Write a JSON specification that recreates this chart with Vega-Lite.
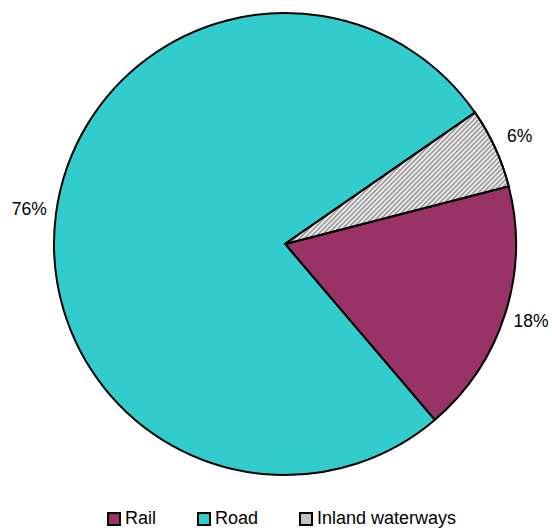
{
 "$schema": "https://vega.github.io/schema/vega-lite/v6.json",
 "width": 462, "height": 462,
 "autosize": {"type": "none"},
 "padding": {"left": 54, "top": 13, "right": 36, "bottom": 55},
 "background": "white",
 "config": {"view": {"stroke": null}, "font": "Liberation Sans"},
 "data": {"values": [
  {"mode": "Rail", "share": 17.8, "idx": 1, "label": "18%"},
  {"mode": "Road", "share": 76.6, "idx": 2, "label": "76%"},
  {"mode": "Inland waterways", "share": 5.6, "idx": 3, "label": "6%"}
 ]},
 "layer": [
  {"transform": [{"stack": "share", "groupby": [], "sort": [{"field": "idx", "order": "ascending"}], "as": ["s0", "s1"]}],
   "mark": {"type": "arc", "stroke": "black", "strokeWidth": 2},
   "encoding": {
     "theta": {"field": "s0", "type": "quantitative", "scale": {"domain": [0, 100], "range": [1.318, 7.601]}},
     "theta2": {"field": "s1"},
     "color": {"field": "mode", "type": "nominal",
       "scale": {"domain": ["Rail", "Road", "Inland waterways"], "range": ["#993366", "#33CCCC", "#c4c4c4"]},
       "legend": {"title": null, "orient": "none", "legendX": 51, "legendY": 497, "direction": "horizontal", "symbolType": "square", "symbolSize": 144,
         "symbolStrokeColor": "black", "symbolStrokeWidth": 2, "symbolOpacity": 1,
         "labelFont": "Liberation Sans", "labelFontSize": 18, "labelColor": "black", "labelOffset": 2,
         "columnPadding": 37,
         "encode": {"symbols": {"update": {
           "stroke": {"value": "black"}, "strokeWidth": {"value": 2}, "opacity": {"value": 1},
           "fill": [
           {"test": "datum.value === 'Inland waterways'", "value": {"gradient": "linear", "x1": 0, "y1": 1, "x2": 1, "y2": 0, "stops": [
             {"offset": 0, "color": "#999"}, {"offset": 0.5, "color": "#fff"}, {"offset": 1, "color": "#999"}]}},
           {"scale": "color", "field": "value"}]}}}}}
   }},
  {"transform": [{"stack": "share", "groupby": [], "sort": [{"field": "idx", "order": "ascending"}], "as": ["s0", "s1"]}, {"filter": "datum.mode === 'Inland waterways'"}],
   "mark": {"type": "arc", "stroke": "black", "strokeWidth": 2,
     "fill": {"gradient": "linear", "x1": 0, "y1": 0, "x2": 1, "y2": 0.578, "stops": [
{"offset":0,"color":"#8c8c8c"},{"offset":0.008,"color":"#fff"},{"offset":0.016,"color":"#8c8c8c"},{"offset":0.024,"color":"#fff"},
{"offset":0.032,"color":"#8c8c8c"},{"offset":0.04,"color":"#fff"},{"offset":0.048,"color":"#8c8c8c"},{"offset":0.056,"color":"#fff"},
{"offset":0.064,"color":"#8c8c8c"},{"offset":0.072,"color":"#fff"},{"offset":0.08,"color":"#8c8c8c"},{"offset":0.088,"color":"#fff"},
{"offset":0.096,"color":"#8c8c8c"},{"offset":0.104,"color":"#fff"},{"offset":0.112,"color":"#8c8c8c"},{"offset":0.12,"color":"#fff"},
{"offset":0.128,"color":"#8c8c8c"},{"offset":0.136,"color":"#fff"},{"offset":0.144,"color":"#8c8c8c"},{"offset":0.152,"color":"#fff"},
{"offset":0.16,"color":"#8c8c8c"},{"offset":0.168,"color":"#fff"},{"offset":0.176,"color":"#8c8c8c"},{"offset":0.184,"color":"#fff"},
{"offset":0.192,"color":"#8c8c8c"},{"offset":0.2,"color":"#fff"},{"offset":0.208,"color":"#8c8c8c"},{"offset":0.216,"color":"#fff"},
{"offset":0.224,"color":"#8c8c8c"},{"offset":0.232,"color":"#fff"},{"offset":0.24,"color":"#8c8c8c"},{"offset":0.248,"color":"#fff"},
{"offset":0.256,"color":"#8c8c8c"},{"offset":0.264,"color":"#fff"},{"offset":0.272,"color":"#8c8c8c"},{"offset":0.28,"color":"#fff"},
{"offset":0.288,"color":"#8c8c8c"},{"offset":0.296,"color":"#fff"},{"offset":0.304,"color":"#8c8c8c"},{"offset":0.312,"color":"#fff"},
{"offset":0.32,"color":"#8c8c8c"},{"offset":0.328,"color":"#fff"},{"offset":0.336,"color":"#8c8c8c"},{"offset":0.344,"color":"#fff"},
{"offset":0.352,"color":"#8c8c8c"},{"offset":0.36,"color":"#fff"},{"offset":0.368,"color":"#8c8c8c"},{"offset":0.376,"color":"#fff"},
{"offset":0.384,"color":"#8c8c8c"},{"offset":0.392,"color":"#fff"},{"offset":0.4,"color":"#8c8c8c"},{"offset":0.408,"color":"#fff"},
{"offset":0.416,"color":"#8c8c8c"},{"offset":0.424,"color":"#fff"},{"offset":0.432,"color":"#8c8c8c"},{"offset":0.44,"color":"#fff"},
{"offset":0.448,"color":"#8c8c8c"},{"offset":0.456,"color":"#fff"},{"offset":0.464,"color":"#8c8c8c"},{"offset":0.472,"color":"#fff"},
{"offset":0.48,"color":"#8c8c8c"},{"offset":0.488,"color":"#fff"},{"offset":0.496,"color":"#8c8c8c"},{"offset":0.504,"color":"#fff"},
{"offset":0.512,"color":"#8c8c8c"},{"offset":0.52,"color":"#fff"},{"offset":0.528,"color":"#8c8c8c"},{"offset":0.536,"color":"#fff"},
{"offset":0.544,"color":"#8c8c8c"},{"offset":0.552,"color":"#fff"},{"offset":0.56,"color":"#8c8c8c"},{"offset":0.568,"color":"#fff"},
{"offset":0.576,"color":"#8c8c8c"},{"offset":0.584,"color":"#fff"},{"offset":0.592,"color":"#8c8c8c"},{"offset":0.6,"color":"#fff"},
{"offset":0.608,"color":"#8c8c8c"},{"offset":0.616,"color":"#fff"},{"offset":0.624,"color":"#8c8c8c"},{"offset":0.632,"color":"#fff"},
{"offset":0.64,"color":"#8c8c8c"},{"offset":0.648,"color":"#fff"},{"offset":0.656,"color":"#8c8c8c"},{"offset":0.664,"color":"#fff"},
{"offset":0.672,"color":"#8c8c8c"},{"offset":0.68,"color":"#fff"},{"offset":0.688,"color":"#8c8c8c"},{"offset":0.696,"color":"#fff"},
{"offset":0.704,"color":"#8c8c8c"},{"offset":0.712,"color":"#fff"},{"offset":0.72,"color":"#8c8c8c"},{"offset":0.728,"color":"#fff"},
{"offset":0.736,"color":"#8c8c8c"},{"offset":0.744,"color":"#fff"},{"offset":0.752,"color":"#8c8c8c"},{"offset":0.76,"color":"#fff"},
{"offset":0.768,"color":"#8c8c8c"},{"offset":0.776,"color":"#fff"},{"offset":0.784,"color":"#8c8c8c"},{"offset":0.792,"color":"#fff"},
{"offset":0.8,"color":"#8c8c8c"},{"offset":0.808,"color":"#fff"},{"offset":0.816,"color":"#8c8c8c"},{"offset":0.824,"color":"#fff"},
{"offset":0.832,"color":"#8c8c8c"},{"offset":0.84,"color":"#fff"},{"offset":0.848,"color":"#8c8c8c"},{"offset":0.856,"color":"#fff"},
{"offset":0.864,"color":"#8c8c8c"},{"offset":0.872,"color":"#fff"},{"offset":0.88,"color":"#8c8c8c"},{"offset":0.888,"color":"#fff"},
{"offset":0.896,"color":"#8c8c8c"},{"offset":0.904,"color":"#fff"},{"offset":0.912,"color":"#8c8c8c"},{"offset":0.92,"color":"#fff"},
{"offset":0.928,"color":"#8c8c8c"},{"offset":0.936,"color":"#fff"},{"offset":0.944,"color":"#8c8c8c"},{"offset":0.952,"color":"#fff"},
{"offset":0.96,"color":"#8c8c8c"},{"offset":0.968,"color":"#fff"},{"offset":0.976,"color":"#8c8c8c"},{"offset":0.984,"color":"#fff"},
{"offset":0.992,"color":"#8c8c8c"},{"offset":1,"color":"#fff"}
     ]}},
   "encoding": {"theta": {"field": "s0", "type": "quantitative"}, "theta2": {"field": "s1"}}},
  {"mark": {"type": "text", "radius": 258, "fontSize": 17.5, "font": "Liberation Sans", "color": "black", "align": "center", "baseline": "middle"},
   "encoding": {"theta": {"field": "share", "type": "quantitative", "stack": true}, "order": {"field": "idx", "type": "quantitative"}, "text": {"field": "label"}}}
 ]
}
